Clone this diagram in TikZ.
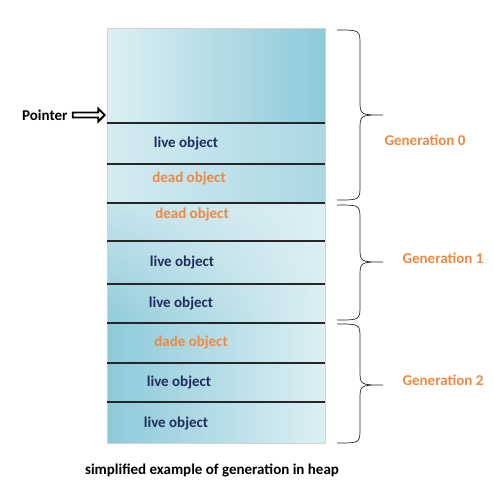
\documentclass[tikz,border=0pt]{standalone}
\usepackage{fontspec}
\setmainfont{Carlito}
\usetikzlibrary{shapes.arrows,fadings}

\definecolor{navytext}{HTML}{1F2D5C}
\definecolor{genorange}{HTML}{EB8A42}
\definecolor{heaplight}{HTML}{DDEFF4}
\definecolor{heapdark}{HTML}{8DCAD9}
\definecolor{heapmid}{HTML}{B6DDE7}

\newcommand{\lbl}{\fontsize{15}{17}\selectfont\bfseries}

\tikzset{
  cellline/.style={line width=1.1pt, draw=black!85},
  liveobj/.style={text=navytext, font=\lbl},
  deadobj/.style={text=genorange, font=\lbl},
  genlabel/.style={text=genorange, font=\lbl},
  genbrace/.style={line width=0.7pt, black!85},
}

\begin{document}
\begin{tikzpicture}[x=1pt, y=-1pt]
\useasboundingbox (0,0) rectangle (494,488);

% heap bands
\shade[left color=heaplight, right color=heapdark] (107,28) rectangle (325,123);
\shade[left color=heaplight!90!heapdark, right color=heapmid!70!heapdark] (107,123) rectangle (325,203);
\shade[left color=heapdark, right color=heaplight] (107,203) rectangle (325,443);
\fill[heaplight, path fading=south, fill opacity=0.7] (107,203) rectangle (325,330);
\draw[gray!35, line width=0.6pt] (107,28) rectangle (325,443);

\draw[cellline] (107,123) -- (325,123);
\draw[cellline] (107,164) -- (325,164);
\draw[cellline] (107,203) -- (325,203);
\draw[cellline] (107,241) -- (325,241);
\draw[cellline] (107,284) -- (325,284);
\draw[cellline] (107,323) -- (325,323);
\draw[cellline] (107,363) -- (325,363);
\draw[cellline] (107,402) -- (325,402);

\node[liveobj] (obja) at (186,143) {live object};
\node[deadobj] (objb) at (189,178) {dead object};
\node[deadobj] (objc) at (192,214) {dead object};
\node[liveobj] (objd) at (182,262) {live object};
\node[liveobj] (obje) at (181,303) {live object};
\node[deadobj] (objf) at (191,342) {dade object};
\node[liveobj] (objg) at (179,382) {live object};
\node[liveobj] (objh) at (176,423) {live object};

% pointer
\node[font=\lbl, anchor=east] (ptr) at (71,115) {Pointer};
\node[single arrow, draw, fill=white, line width=1.8pt, minimum height=32pt,
      minimum width=13pt, single arrow head extend=3pt, inner sep=1pt,
      anchor=tip] (ptrarrow) at (106,115) {};

% generation braces
\draw[genbrace] (337,30) .. controls (360,30) .. (360,45) -- (360,100)
  .. controls (360,115) .. (383,115) .. controls (360,115) .. (360,130)
  -- (360,185) .. controls (360,200) .. (337,200);
\draw[genbrace] (337,205) .. controls (360,205) .. (360,220) -- (360,247)
  .. controls (360,262) .. (383,262) .. controls (360,262) .. (360,277)
  -- (360,305) .. controls (360,320) .. (337,320);
\draw[genbrace] (337,324) .. controls (360,324) .. (360,339) -- (360,370)
  .. controls (360,385) .. (383,385) .. controls (360,385) .. (360,400)
  -- (360,428) .. controls (360,443) .. (337,443);

\node[genlabel] (gen0) at (425,140) {Generation 0};
\node[genlabel] (gen1) at (443,258) {Generation 1};
\node[genlabel] (gen2) at (443,380) {Generation 2};

\node[font=\lbl] (caption) at (212,470) {simplified example of generation in heap};
\end{tikzpicture}
\end{document}
